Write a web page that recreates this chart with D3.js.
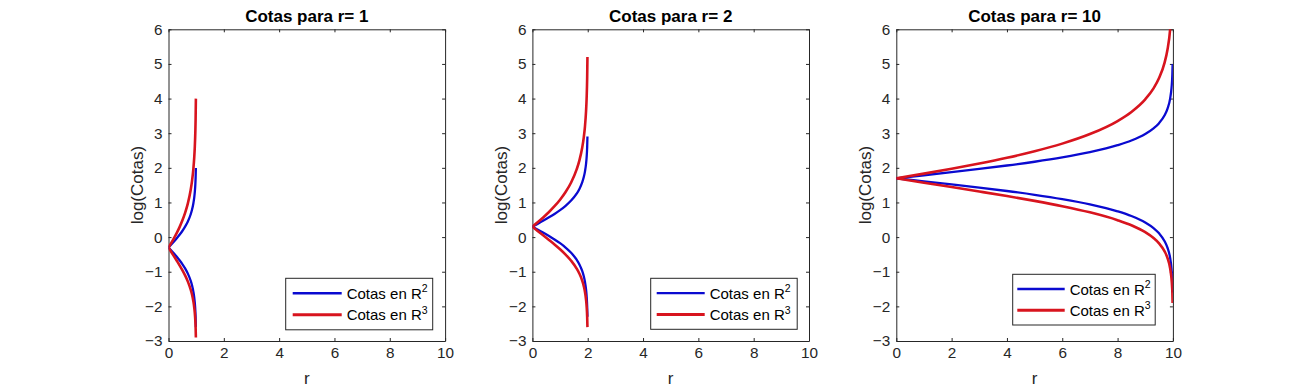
<!DOCTYPE html>
<html>
<head>
<meta charset="utf-8">
<script src="https://cdn.jsdelivr.net/npm/d3@7/dist/d3.min.js"></script>
<style>
  html, body { margin: 0; padding: 0; background: #fff; }
  svg { display: block; }
  text { font-family: Arial, "Liberation Sans", Helvetica, sans-serif; }
</style>
</head>
<body>
<svg id="chart" width="1296" height="391"></svg>
<script>
// ---------- data ----------
const panelTitles = ["Cotas para r= 1", "Cotas para r= 2", "Cotas para r= 10"];
const xTicks = [0, 2, 4, 6, 8, 10];
const yTicks = [-3, -2, -1, 0, 1, 2, 3, 4, 5, 6];
const seriesNames = ["Cotas en R", "Cotas en R"];
const seriesSup = ["2", "3"];

// panel r = 1
const x1 = [0, 0.1, 0.2, 0.3, 0.4, 0.5, 0.6, 0.7, 0.8, 0.85, 0.9, 0.93, 0.95, 0.97, 0.98, 0.99];
const blueUp1 = [-0.301, -0.214, -0.125, -0.032, 0.067, 0.176, 0.301, 0.452, 0.653, 0.790, 0.978, 1.139, 1.290, 1.516, 1.695, 1.998];
const blueLo1 = [-0.301, -0.388, -0.477, -0.570, -0.669, -0.778, -0.903, -1.054, -1.255, -1.392, -1.580, -1.741, -1.892, -2.118, -2.297, -2.600];
const redUp1  = [-0.301, -0.168, -0.028, 0.123, 0.289, 0.477, 0.699, 0.975, 1.352, 1.614, 1.978, 2.294, 2.591, 3.039, 3.394, 3.998];
const redLo1  = [-0.301, -0.430, -0.556, -0.684, -0.815, -0.954, -1.107, -1.285, -1.511, -1.659, -1.859, -2.027, -2.182, -2.413, -2.593, -2.899];

// panel r = 2
const x2 = [0, 0.2, 0.4, 0.6, 0.8, 1.0, 1.2, 1.4, 1.6, 1.7, 1.8, 1.86, 1.9, 1.94, 1.96, 1.98, 1.99];
const blueUp2 = [0.301, 0.388, 0.477, 0.570, 0.669, 0.778, 0.903, 1.054, 1.255, 1.392, 1.580, 1.741, 1.892, 2.118, 2.297, 2.600, 2.902];
const blueLo2 = [0.301, 0.214, 0.125, 0.032, -0.067, -0.176, -0.301, -0.452, -0.653, -0.790, -0.978, -1.139, -1.290, -1.516, -1.695, -1.998, -2.300];
const redUp2  = [0.301, 0.434, 0.574, 0.725, 0.891, 1.079, 1.301, 1.577, 1.954, 2.216, 2.580, 2.896, 3.193, 3.641, 3.996, 4.600, 5.203];
const redLo2  = [0.301, 0.172, 0.046, -0.082, -0.213, -0.352, -0.505, -0.683, -0.908, -1.057, -1.256, -1.425, -1.580, -1.811, -1.991, -2.297, -2.600];

// panel r = 10
const x3 = [0, 1, 2, 3, 4, 5, 6, 7, 8, 8.5, 9, 9.3, 9.5, 9.7, 9.8, 9.9, 9.95, 9.96, 9.97, 9.98, 9.99];
const blueUp3 = [1.699, 1.786, 1.875, 1.968, 2.067, 2.176, 2.301, 2.452, 2.653, 2.790, 2.978, 3.139, 3.290, 3.516, 3.695, 3.998, 4.300, 4.397, 4.522, 4.699, 5.000];
const blueLo3 = [1.699, 1.612, 1.523, 1.430, 1.331, 1.222, 1.097, 0.946, 0.745, 0.608, 0.420, 0.259, 0.108, -0.118, -0.297, -0.600, -0.902, -0.999, -1.124, -1.301, -1.602];
const redUp3  = [1.699, 1.832, 1.972, 2.123, 2.289, 2.477, 2.699, 2.975, 3.352, 3.614, 3.978, 4.294, 4.591, 5.039, 5.394, 5.998, 6.601, 6.795, 7.045, 7.398, 8.000];
const redLo3  = [1.699, 1.570, 1.444, 1.316, 1.185, 1.046, 0.893, 0.715, 0.489, 0.341, 0.141, -0.027, -0.182, -0.413, -0.593, -0.899, -1.202, -1.299, -1.425, -1.591, -1.903];

const panelsData = [
  { x: x1, bu: blueUp1, bl: blueLo1, ru: redUp1, rl: redLo1 },
  { x: x2, bu: blueUp2, bl: blueLo2, ru: redUp2, rl: redLo2 },
  { x: x3, bu: blueUp3, bl: blueLo3, ru: redUp3, rl: redLo3 }
];

// ---------- layout ----------
const axesLeft = [168.5, 532.4, 896.3];
const axesW = 276.6;
const axesTop = 29.3, axesBottom = 341;
const legendPos = [
  { x: 285.7, y: 278.3, w: 147, h: 51.5, l1: 7, l2: 56, t: 61 },
  { x: 650.7, y: 278.3, w: 146.5, h: 51, l1: 6, l2: 54, t: 59 },
  { x: 1012.7, y: 274.3, w: 142.5, h: 50.7, l1: 4.6, l2: 52, t: 57 }
];
const BLUE = "#0a0ad0";
const RED = "#d8141e";
const AX = "#262626";
const TICK_FS = "15.3px";
const LABEL_FS = "17px";

const svg = d3.select("#chart");

panelsData.forEach((pd, i) => {
  const x = d3.scaleLinear().domain([0, 10]).range([axesLeft[i], axesLeft[i] + axesW]);
  const y = d3.scaleLinear().domain([-3, 6]).range([axesBottom, axesTop]);
  const g = svg.append("g");

  g.append("clipPath").attr("id", "clip" + i)
    .append("rect").attr("x", x(0)).attr("y", y(6))
    .attr("width", x(10) - x(0)).attr("height", y(-3) - y(6));

  // axes (ticks inward, box)
  const tl = 3;
  const bottom = g.append("g").attr("transform", `translate(0,${y(-3)})`)
    .call(d3.axisBottom(x).tickValues(xTicks).tickSizeInner(-tl).tickSizeOuter(0).tickPadding(6));
  const top = g.append("g").attr("transform", `translate(0,${y(6)})`)
    .call(d3.axisTop(x).tickValues(xTicks).tickSizeInner(-tl).tickSizeOuter(0).tickFormat(""));
  const left = g.append("g").attr("transform", `translate(${x(0)},0)`)
    .call(d3.axisLeft(y).tickValues(yTicks).tickSizeInner(-tl).tickSizeOuter(0).tickPadding(6));
  const right = g.append("g").attr("transform", `translate(${x(10)},0)`)
    .call(d3.axisRight(y).tickValues(yTicks).tickSizeInner(-tl).tickSizeOuter(0).tickFormat(""));
  [bottom, top, left, right].forEach(a => {
    a.attr("font-size", null).attr("font-family", null);
    a.select(".domain").attr("stroke", AX).attr("stroke-width", 1);
    a.selectAll(".tick line").attr("stroke", AX).attr("stroke-width", 1);
    a.selectAll("text").attr("fill", AX).style("font-size", TICK_FS)
      .style("font-family", "Arial, 'Liberation Sans', Helvetica, sans-serif");
  });

  // title
  g.append("text").attr("x", (x(0) + x(10)) / 2).attr("y", 22)
    .attr("text-anchor", "middle").attr("font-weight", "bold")
    .style("font-size", LABEL_FS).attr("fill", "#000").text(panelTitles[i]);
  // axis labels
  g.append("text").attr("x", (x(0) + x(10)) / 2).attr("y", 384)
    .attr("text-anchor", "middle").style("font-size", LABEL_FS).attr("fill", AX).text("r");
  g.append("text").attr("transform", `translate(${x(0) - 25.5},${(y(-3) + y(6)) / 2}) rotate(-90)`)
    .attr("text-anchor", "middle").style("font-size", LABEL_FS).attr("fill", AX).text("log(Cotas)");

  // curves
  const line = (ys) => d3.line().x((d, k) => x(pd.x[k])).y(d => y(d)).curve(d3.curveMonotoneX)(ys);
  const cg = g.append("g").attr("clip-path", `url(#clip${i})`);
  [pd.bu, pd.bl].forEach(s => cg.append("path").attr("d", line(s))
    .attr("fill", "none").attr("stroke", BLUE).attr("stroke-width", 2.3));
  [pd.ru, pd.rl].forEach(s => cg.append("path").attr("d", line(s))
    .attr("fill", "none").attr("stroke", RED).attr("stroke-width", 2.6));

  // legend
  const L = legendPos[i];
  const lg = g.append("g");
  lg.append("rect").attr("x", L.x).attr("y", L.y).attr("width", L.w).attr("height", L.h)
    .attr("fill", "#fff").attr("stroke", AX).attr("stroke-width", 1);
  const rowY = [L.y + L.h * 0.29, L.y + L.h * 0.71];
  [BLUE, RED].forEach((c, k) => {
    lg.append("line").attr("x1", L.x + L.l1).attr("x2", L.x + L.l2)
      .attr("y1", rowY[k]).attr("y2", rowY[k])
      .attr("stroke", c).attr("stroke-width", k === 0 ? 2.3 : 3);
    const t = lg.append("text").attr("x", L.x + L.t).attr("y", rowY[k] + 5.5)
      .style("font-size", "15px").attr("fill", "#000");
    t.append("tspan").text(seriesNames[k]);
    t.append("tspan").attr("dy", -6.5).style("font-size", "10.5px").text(seriesSup[k]);
  });
});
</script>
</body>
</html>
